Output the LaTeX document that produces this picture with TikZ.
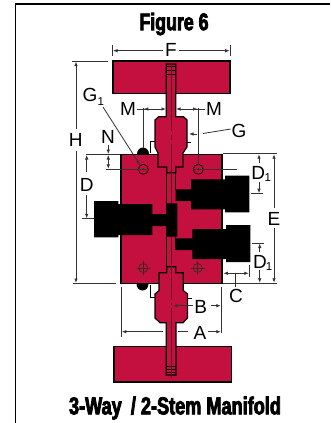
\documentclass[tikz,border=0pt]{standalone}
\usepackage{fontspec}
\setmainfont{Liberation Sans}
\newfontfamily\impactish[FakeStretch=0.74,FakeBold=3.2]{Liberation Sans}
\usetikzlibrary{arrows.meta}
\definecolor{partred}{HTML}{C4103F}
\definecolor{darkred}{HTML}{6E0A24}
\definecolor{dimgray}{HTML}{333333}
\definecolor{brownline}{HTML}{3A2A18}
\tikzset{
  part/.style={fill=partred,draw=black,line width=1.2pt,line join=miter},
  valve/.style={fill=black,draw=none},
  dimline/.style={draw=dimgray,line width=0.8pt},
  extline/.style={draw=dimgray,line width=1pt},
  arr/.style={dimline,-{Latex[length=4.5pt,width=3.5pt]}},
  darr/.style={dimline,{Latex[length=4.5pt,width=3.5pt]}-{Latex[length=4.5pt,width=3.5pt]}},
  lab/.style={font=\fontsize{19}{19}\selectfont,inner sep=0pt,text=black},
  sublab/.style={font=\fontsize{11.5}{12}\selectfont,inner sep=0pt,text=black},
  titletext/.style={inner sep=0pt,text=black},
  centreline/.style={draw=darkred,line width=0.8pt},
  portmark/.style={draw=black,line width=0.7pt},
  lowmark/.style={draw=brownline,line width=0.7pt}
}
\begin{document}
\begin{tikzpicture}[x=1pt,y=-1pt]
\useasboundingbox (0,0) rectangle (330,423);
% frame
\draw[line width=1.4pt] (330,4) -- (15.5,4) -- (15.5,423);
% titles
\node[titletext,font=\impactish\bfseries\fontsize{24}{24}\selectfont] (title) at (174,24) {Figure 6};
\node[titletext,font=\impactish\bfseries\fontsize{24.5}{24.5}\selectfont] (caption) at (175,408) {3-Way\, / 2-Stem Manifold};
% handles
\draw[part] (113,61) rectangle (230,93.5);
\draw[part] (114,346.3) rectangle (231.3,382);
% block
\draw[part] (121,154.5) rectangle (222,283.3);
% domes
\fill (137,154) arc (180:360:6 and 6.5) -- cycle;
\fill (136.5,284) arc (180:0:6 and 6.5) -- cycle;
% small brackets
\draw[line width=0.8pt] (155,141) -- (150.7,141) -- (150.7,153);
\draw[line width=0.8pt] (187,142) -- (191,142);
\draw[line width=0.8pt] (150,285) -- (150,297) -- (155,297);
\draw[line width=0.8pt] (187,298) -- (192,298);
% upper bonnet and stem
\draw[part] (166.3,64) -- (166.3,116.7) -- (158.7,116.7) -- (155,120) -- (155,147) -- (158,153) -- (158,167)
  -- (166.7,167) -- (166.7,172.7) -- (175.7,172.7) -- (175.7,167) -- (183,167) -- (183,153) -- (187,147)
  -- (187,120) -- (183.5,116.7) -- (175.7,116.7) -- (175.7,64) -- cycle;
% lower bonnet and stem
\draw[part] (166.3,375) -- (166.3,322.7) -- (160,322.7) -- (155,318) -- (155,294) -- (159,290.5) -- (159,272.7)
  -- (166.7,272.7) -- (166.7,266.7) -- (175.7,266.7) -- (175.7,272.7) -- (183.3,272.7) -- (183.3,290.5) -- (187.5,294)
  -- (187.5,318) -- (183,322.7) -- (176,322.7) -- (176,375) -- cycle;
% stem hatching
\draw[line width=0.6pt] (166.3,66.7) -- (175.7,66.7) (166.3,70) -- (175.7,70) (166.3,74) -- (175.7,74);
\draw[line width=0.6pt] (166.3,366) -- (176,366) (166.3,369.3) -- (176,369.3) (166.3,372.3) -- (176,372.3);
% channel
\draw[line width=1.2pt] (166.7,172.7) -- (166.7,203) (175.7,172.7) -- (175.7,190);
\draw[line width=1.2pt] (166.7,237) -- (166.7,266.7) (175.7,237) -- (175.7,250);
% centre lines
\draw[centreline] (171,63) -- (171,131) (171,135) -- (171,140) (171,144) -- (171,204);
\draw[centreline] (171,236) -- (171,300) (171,302.5) -- (171,305) (171,308) -- (171,378);
% left valve
\fill[valve] (94,201) -- (118.3,201) -- (118.3,204) -- (152.3,204) -- (152.3,214) -- (166,214) -- (166,203.3)
  -- (177.3,203.3) -- (177.3,236.7) -- (166,236.7) -- (166,226) -- (152.3,226) -- (152.3,235) -- (118.3,235)
  -- (118.3,237.3) -- (94,237.3) -- cycle;
% right valves
\fill[valve] (175.7,189.3) -- (191,189.3) -- (191,179.3) -- (225,179.3) -- (225,175.7) -- (249.3,175.7)
  -- (249.3,212.3) -- (225,212.3) -- (225,209.3) -- (191,209.3) -- (191,201) -- (175.7,201) -- cycle;
\fill[valve] (175.7,238.3) -- (192.3,238.3) -- (192.3,229) -- (226,229) -- (226,225) -- (250.3,225)
  -- (250.3,262) -- (226,262) -- (226,259) -- (192.3,259) -- (192.3,250) -- (175.7,250) -- cycle;
% port marks, upper
\draw[portmark] (143.3,169.3) circle (5);
\draw[portmark] (198.3,169.3) circle (5);
\fill (143.3,169.3) circle (0.9);
\fill (198.3,169.3) circle (0.9);
% port marks, lower
\draw[lowmark] (143.3,268) circle (4.5);
\draw[lowmark] (197.7,268) circle (4.5);
\draw[lowmark] (136.5,268) -- (150.1,268) (143.3,261.2) -- (143.3,274.8);
\draw[lowmark] (190.9,268) -- (204.5,268) (197.7,261.2) -- (197.7,274.8);
% F
\draw[extline] (112.7,45) -- (112.7,56);
\draw[extline] (230,45) -- (230,56);
\draw[arr] (163,50.7) -- (113,50.7);
\draw[arr] (179,50.7) -- (229.7,50.7);
\node[lab] (F) at (171,49.5) {F};
% H
\draw[extline] (72.3,61) -- (108.3,61);
\draw[extline] (73,283.7) -- (115.7,283.7);
\draw[arr] (76,129) -- (76,61.5);
\draw[arr] (76,151) -- (76,283);
\node[lab] (H) at (75.7,140) {H};
% M
\draw[extline] (143.3,108) -- (143.3,148);
\draw[extline] (198,108) -- (198,165);
\draw[dimline] (137,109) -- (147,109);
\draw[dimline] (205,109) -- (194,109);
\draw[arr] (155,109) -- (143.8,109);
\draw[arr] (155,109) -- (166,109);
\draw[arr] (187,109) -- (176,109);
\draw[arr] (187,109) -- (197.5,109);
\node[lab] (ML) at (128,109) {M};
\node[lab] (MR) at (214,109) {M};
% G
\node[lab] (G) at (239,130.5) {G};
\coordinate (Gb) at (203,133.5);
\draw[dimline] (230.7,129) -- (Gb);
\draw[arr] (197,134) -- (189,134);
% G1
\node[lab] (G1) at (90,95) {G};
\node[sublab] (G1s) at (100.7,102) {1};
\coordinate (G1tip) at (140,165);
\draw[arr] (103,107) -- (G1tip);
% N
\node[lab] (N) at (108,137) {N};
\draw[extline] (85.7,154.4) -- (120,154.4);
\draw[dimline] (105.7,169.3) -- (148,169.3);
\draw[dimline] (193,169.3) -- (236.7,169.3);
\draw[arr] (108.3,145) -- (108.3,154);
\draw[darr] (108.3,155) -- (108.3,168.8);
% D
\node[lab] (D) at (86.7,184.5) {D};
\draw[arr] (86.7,172) -- (86.7,155);
\draw[arr] (86.7,195) -- (86.7,218.3);
\draw[extline] (81.7,218.7) -- (94,218.7);
% E
\draw[extline] (222.7,153.7) -- (277,153.7);
\draw[extline] (222.7,283.3) -- (277,283.3);
\node[lab] (E) at (274,218.7) {E};
\draw[arr] (274,208) -- (274,154.2);
\draw[arr] (274,228) -- (274,282.8);
% D1 upper
\node[lab] (D1a) at (258.3,172.7) {D};
\node[sublab] (D1as) at (267.7,178) {1};
\draw[arr] (259,162.7) -- (259,154.2);
\draw[arr] (259,182) -- (259,193.2);
\draw[extline] (251,193.7) -- (262.7,193.7);
% D1 lower
\node[lab] (D1b) at (260,261.7) {D};
\node[sublab] (D1bs) at (269,267) {1};
\draw[extline] (251.7,243) -- (264,243);
\draw[arr] (259.7,251.7) -- (259.7,243.5);
\draw[arr] (259.7,270) -- (259.7,282.8);
% C
\draw[extline] (249.3,265) -- (249.3,277);
\draw[darr] (223.3,273.3) -- (248.8,273.3);
\draw[draw=brownline,line width=1pt] (235.7,273.3) -- (235.7,287);
\node[lab] (C) at (236,295.5) {C};
% A
\draw[extline] (121.3,287) -- (121.3,336.7);
\draw[extline] (221.3,287) -- (221.3,333);
\node[lab] (A) at (200,332.5) {A};
\draw[arr] (163,331.7) -- (121.8,331.7);
\draw[dimline] (178,331.7) -- (188,331.7);
\draw[arr] (208,331.7) -- (220.8,331.7);
% B
\node[lab] (B) at (200.7,307.3) {B};
\draw[arr] (193,305.7) -- (173,305.7);
\draw[arr] (210.7,305.7) -- (220.8,305.7);
\end{tikzpicture}
\end{document}
